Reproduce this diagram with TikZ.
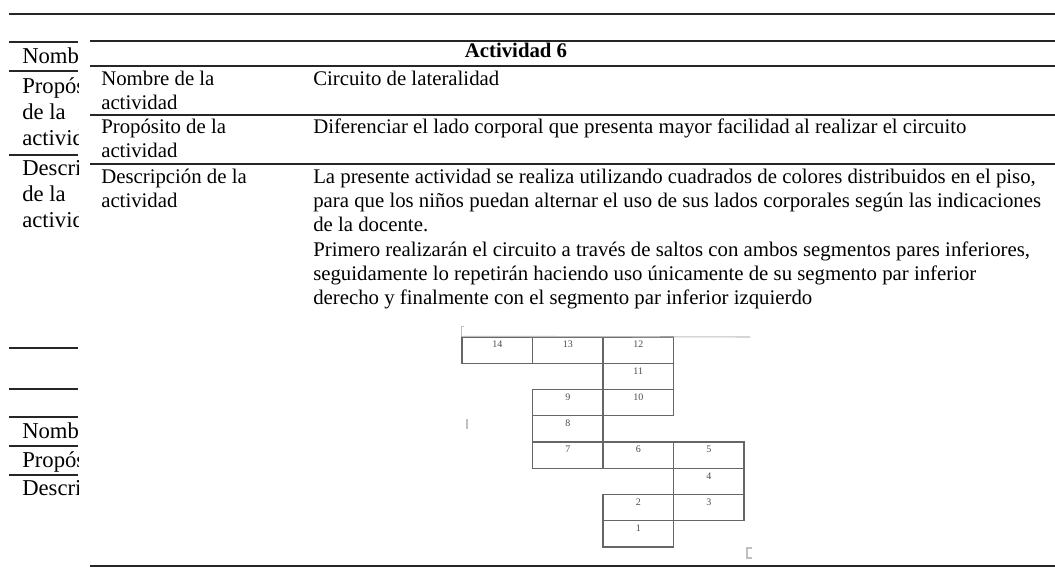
\documentclass[tikz,border=0pt]{standalone}
\usepackage{fontspec}
\setmainfont{Liberation Serif}
\usepackage{tikz}

\tikzset{
  thinrule/.style={line width=0.9pt, black!85},
  thickrule/.style={line width=1.5pt, black!85},
  celltxt/.style={anchor=north west, inner sep=0pt, align=left, font=\fontsize{15.6}{18.2}\selectfont},
  backtxt/.style={anchor=north west, inner sep=0pt, align=left, font=\fontsize{17}{19.5}\selectfont},
  cell/.style={draw=black!60, line width=1pt, minimum width=52.9pt, minimum height=19.7pt, inner sep=0pt},
  num/.style={anchor=north, inner sep=0pt, yshift=-3.5pt, font=\fontsize{7.5}{8}\selectfont, text=black!70},
  cropmark/.style={line width=0.8pt, black!25},
}

\begin{document}
\begin{tikzpicture}[x=0.75pt,y=-0.75pt]
\useasboundingbox (0,0) rectangle (1055,577);

% table behind (cut off)

\begin{scope}
\clip (0,0) rectangle (78,577);
\node[backtxt] (bnom) at (22,44.8) {\strut Nombre};
\node[backtxt] (bprop) at (22,74.8) {\strut Propós\\de la\\activid};
\node[backtxt] (bdesc) at (22,156.8) {\strut Descrip\\de la\\activid};
\node[backtxt] (bnom2) at (22,419.8) {\strut Nombre};
\node[backtxt] (bprop2) at (22,448.8) {\strut Propós};
\node[backtxt] (bdesc2) at (22,476.8) {\strut Descrip};
\end{scope}

%% lines
\draw[thickrule] (9,14) -- (1055,14);
\draw[thinrule] (9,42) -- (78,42);
\draw[thinrule] (9,71) -- (78,71);
\draw[thinrule] (9,155) -- (78,155);
\draw[thinrule] (9,348) -- (78,348);
\draw[thinrule] (9,389) -- (78,389);
\draw[thinrule] (9,417) -- (78,417);
\draw[thinrule] (9,446) -- (78,446);
\draw[thinrule] (9,475) -- (78,475);

% actividad 6

\node[anchor=base, inner sep=0pt, font=\fontsize{15.6}{18.2}\selectfont\bfseries] (titulo) at (516,58) {Actividad 6};

\node[celltxt] (nom) at (101,68) {\strut Nombre de la\\actividad};
\node[celltxt] (circ) at (313,68) {\strut Circuito de lateralidad};
\node[celltxt] (prop) at (101,116) {\strut Propósito de la\\actividad};
\node[celltxt] (dif) at (313,116) {\strut Diferenciar el lado corporal que presenta mayor facilidad al realizar el circuito};
\node[celltxt] (desc) at (101,166) {\strut Descripción de la\\actividad};
\node[celltxt] (txtdesc) at (313,166) {\strut La presente actividad se realiza utilizando cuadrados de colores distribuidos en el piso,\\
para que los niños puedan alternar el uso de sus lados corporales según las indicaciones\\
de la docente.\\
Primero realizarán el circuito a través de saltos con ambos segmentos pares inferiores,\\
seguidamente lo repetirán haciendo uso únicamente de su segmento par inferior\\
derecho y finalmente con el segmento par inferior izquierdo};

%% lines
\draw[thickrule] (90,41) -- (1055,41);
\draw[thinrule] (90,66) -- (1055,66);
\draw[thinrule] (90,115) -- (1055,115);
\draw[thinrule] (90,164) -- (1055,164);
\draw[thickrule] (90,566) -- (1055,566);

% circuito

\node[cell, label={[num]north:14}] (c14) at (497.25,350.1) {};
\node[cell, label={[num]north:13}] (c13) at (567.75,350.1) {};
\node[cell, label={[num]north:12}] (c12) at (638.25,350.1) {};
\node[cell, label={[num]north:11}] (c11) at (638.25,376.4) {};
\node[cell, label={[num]north:10}] (c10) at (638.25,402.6) {};
\node[cell, label={[num]north:9}] (c9) at (567.75,402.6) {};
\node[cell, label={[num]north:8}] (c8) at (567.75,428.9) {};
\node[cell, label={[num]north:7}] (c7) at (567.75,455.1) {};
\node[cell, label={[num]north:6}] (c6) at (638.25,455.1) {};
\node[cell, label={[num]north:5}] (c5) at (708.75,455.1) {};
\node[cell, label={[num]north:4}] (c4) at (708.75,481.4) {};
\node[cell, label={[num]north:3}] (c3) at (708.75,507.6) {};
\node[cell, label={[num]north:2}] (c2) at (638.25,507.6) {};
\node[cell, label={[num]north:1}] (c1) at (638.25,533.9) {};

%% marks
\draw[cropmark] (c14.north west) -- (750,337);
\draw[cropmark] (c14.north west) -- ++(0,-10) -- ++(3,0);
\draw[cropmark] (467,419) -- (467,429);
\draw[cropmark] (752,548) -- (747,548) -- (747,558) -- (752,558);

\end{tikzpicture}
\end{document}
